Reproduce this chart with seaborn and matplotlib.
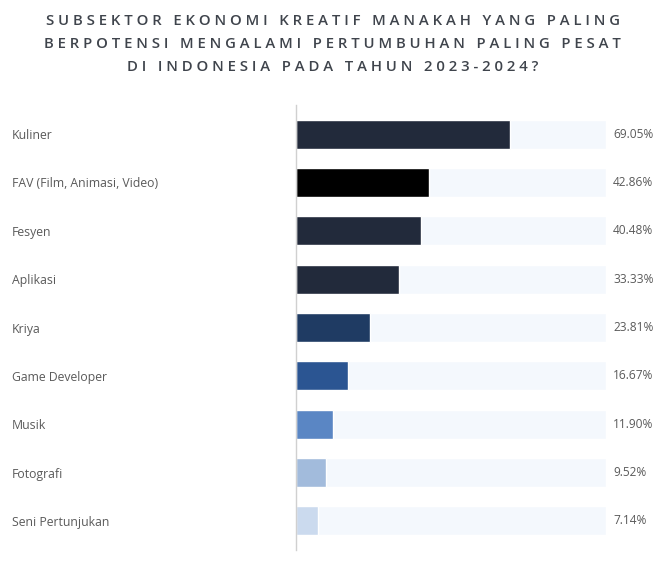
import matplotlib
matplotlib.use("Agg")
import matplotlib.pyplot as plt
import seaborn as sns
import pandas as pd

categories = ["Kuliner", "FAV (Film, Animasi, Video)", "Fesyen", "Aplikasi", "Kriya",
              "Game Developer", "Musik", "Fotografi", "Seni Pertunjukan"]
values = [69.05, 42.86, 40.48, 33.33, 23.81, 16.67, 11.90, 9.52, 7.14]
bar_colors = ["#222a3b", "#000000", "#222a3b", "#222a3b", "#1f3b63",
              "#2b5592", "#5a86c4", "#a2bbdc", "#cbdaee"]
track_max = [100] * len(categories)
title = "SUBSEKTOR EKONOMI KREATIF MANAKAH YANG PALING\nBERPOTENSI MENGALAMI PERTUMBUHAN PALING PESAT\nDI INDONESIA PADA TAHUN 2023-2024?"

sns.set_theme(style="white")
plt.rcParams['font.family'] = ['Open Sans', 'DejaVu Sans']

df = pd.DataFrame({"cat": categories, "val": values, "track": track_max})

W, H = 665, 566
fig = plt.figure(figsize=(W / 100, H / 100), dpi=100)
ax = fig.add_axes([296 / W, 1 - 550 / H, (606 - 296) / W, (550 - 105) / H])

sns.barplot(data=df, y="cat", x="track", color="#f4f8fd", width=0.6, ax=ax,
            order=categories, saturation=1)
sns.barplot(data=df, y="cat", x="val", hue="cat", palette=bar_colors, width=0.6,
            ax=ax, order=categories, hue_order=categories, legend=False, saturation=1)

ax.set_xlim(0, 100)
ax.set_ylim(8.6, -0.6)
ax.set_xlabel("")
ax.set_ylabel("")
ax.set_xticks([])
for s in ["top", "right", "bottom"]:
    ax.spines[s].set_visible(False)
ax.spines["left"].set_color("#d0d0d0")
ax.spines["left"].set_linewidth(1.0)

ax.tick_params(axis="y", length=0, pad=(296 - 12) * 0.72, labelsize=8.8, labelcolor="#5a5a5a")
for lab in ax.get_yticklabels():
    lab.set_ha("left")

for i, v in enumerate(values):
    ax.annotate(f"{v:.2f}%", xy=(100, i), xytext=(5, 0), textcoords="offset points",
                va="center", ha="left", fontsize=8.6, color="#5a5a5a")

spaced = "\n".join("   ".join(" ".join(w) for w in line.split(" ")) for line in title.split("\n"))
fig.text(0.5, 1 - 44 / H, spaced, ha="center", va="center", fontsize=10.7, fontweight="semibold",
         color="#3f444c", linespacing=1.78)

fig.savefig("out.png", dpi=100)
